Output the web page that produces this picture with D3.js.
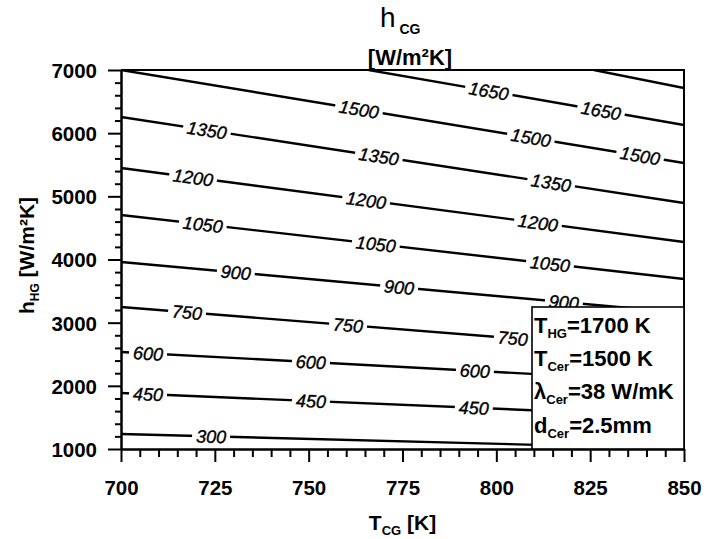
<!DOCTYPE html>
<html>
<head>
<meta charset="utf-8">
<script src="https://cdn.jsdelivr.net/npm/d3@7"></script>
<style>
  body { margin: 0; background: #fff; }
  svg { font-family: "Liberation Sans", Arial, Helvetica, sans-serif; }
  .axis path, .axis line { stroke: #000; stroke-width: 2; }
  .axis text { font-size: 20.5px; font-weight: bold; fill: #000; font-family: "Liberation Sans", Arial, sans-serif; }
</style>
</head>
<body>
<div id="main"></div>
<script>
//chart size and plot box
const width = 716, height = 539;
const plotLeft = 121, plotRight = 684, plotTop = 70, plotBottom = 449;

//axis ticks
const xTicks = [700, 725, 750, 775, 800, 825, 850];
const yTicks = [1000, 2000, 3000, 4000, 5000, 6000, 7000];

//contour levels: start / end points [T_CG, h_HG]
const levels = [300, 450, 600, 750, 900, 1050, 1200, 1350, 1500, 1650, 1800];
const lineStart = [[700,1237],[700,1886],[700,2536],[700,3248],[700,3961],[700,4704],[700,5449],[700,6256],[700,7000],[766,7000],[826,7000]];
const lineEnd   = [[850,1005],[850,1513],[850,2061],[850,2536],[850,3153],[850,3691],[850,4277],[850,4894],[850,5528],[850,6129],[850,6715]];
//where the inline labels sit (T_CG)
const labelT = [
  [724],
  [707.2, 750.6, 794.0],
  [707.2, 750.6, 794.3],
  [717.6, 760.5, 804.4],
  [730.6, 774.1, 818.0],
  [721.8, 767.9, 814.3],
  [719.2, 765.3, 811.1],
  [722.9, 768.7, 814.6],
  [763.4, 809.2, 838.3],
  [798.0, 827.9],
  []
];

//parameter box text
const legendMain = ["T", "T", "\u03bb", "d"];
const legendSub = ["HG", "Cer", "Cer", "Cer"];
const legendRest = ["=1700 K", "=1500 K", "=38 W/mK", "=2.5mm"];

const svg = d3.select('#main').append('svg')
  .attr('width', width).attr('height', height);

const xScale = d3.scaleLinear().domain([700, 850]).range([plotLeft, plotRight]);
const yScale = d3.scaleLinear().domain([1000, 7000]).range([plotBottom, plotTop]);

svg.append('defs').append('clipPath').attr('id', 'plot')
  .append('rect').attr('x', plotLeft).attr('y', plotTop)
  .attr('width', plotRight - plotLeft).attr('height', plotBottom - plotTop);

//contour lines
const line = d3.line().x(d => xScale(d[0])).y(d => yScale(d[1]));
const cont = svg.append('g').attr('clip-path', 'url(#plot)');
levels.forEach(function(lv, i){
  cont.append('path')
    .attr('d', line([lineStart[i], lineEnd[i]]))
    .attr('fill', 'none').attr('stroke', '#000').attr('stroke-width', 2.4);
});

//inline labels with a white gap under them
levels.forEach(function(lv, i){
  const a = lineStart[i], b = lineEnd[i];
  const ang = Math.atan2(yScale(b[1]) - yScale(a[1]), xScale(b[0]) - xScale(a[0])) * 180 / Math.PI;
  labelT[i].forEach(function(t){
    const h = a[1] + (b[1] - a[1]) * (t - a[0]) / (b[0] - a[0]);
    const g = cont.append('g')
      .attr('transform', 'translate(' + xScale(t) + ',' + yScale(h) + ') rotate(' + ang + ')');
    const w = String(lv).length * 10 + 8;
    g.append('rect').attr('x', -w/2).attr('y', -5).attr('width', w).attr('height', 10).attr('fill', '#fff');
    g.append('text').text(lv)
      .attr('text-anchor', 'middle').attr('dy', '0.36em')
      .attr('font-size', '18px').attr('font-style', 'italic')
      .attr('stroke', '#000').attr('stroke-width', 0.4)
      .attr('fill', '#000');
  });
});

//axes: minor then major ticks
const xMinor = d3.range(700, 851, 5).filter(v => v % 25 !== 0);
const yMinor = d3.range(1000, 7001, 200).filter(v => v % 1000 !== 0);

svg.append('g').attr('class', 'axis')
  .attr('transform', 'translate(0,' + plotBottom + ')')
  .call(d3.axisBottom(xScale).tickValues(xMinor).tickSize(8).tickSizeOuter(0).tickFormat(''));
svg.append('g').attr('class', 'axis')
  .attr('transform', 'translate(' + plotLeft + ',0)')
  .call(d3.axisLeft(yScale).tickValues(yMinor).tickSize(6).tickSizeOuter(0).tickFormat(''));

const xAxisG = svg.append('g').attr('class', 'axis')
  .attr('transform', 'translate(0,' + plotBottom + ')')
  .call(d3.axisBottom(xScale).tickValues(xTicks).tickSize(13).tickSizeOuter(0).tickFormat(d3.format('d')));
xAxisG.selectAll('text').attr('y', 46).attr('dy', 0);

const yAxisG = svg.append('g').attr('class', 'axis')
  .attr('transform', 'translate(' + plotLeft + ',0)')
  .call(d3.axisLeft(yScale).tickValues(yTicks).tickSize(13).tickSizeOuter(0).tickFormat(d3.format('d')));
yAxisG.selectAll('text').attr('x', -24).attr('dy', '0.36em');

//frame top and right
svg.append('path')
  .attr('d', 'M' + plotLeft + ',' + plotTop + 'H' + plotRight + 'V' + plotBottom)
  .attr('fill', 'none').attr('stroke', '#000').attr('stroke-width', 2);

//parameter box
svg.append('rect')
  .attr('x', 532).attr('y', 307).attr('width', plotRight - 532).attr('height', plotBottom - 307)
  .attr('fill', '#fff').attr('stroke', '#000').attr('stroke-width', 1.6);
legendMain.forEach(function(m, i){
  const t = svg.append('text')
    .attr('x', 534).attr('y', 333 + i * 33.2)
    .attr('font-size', '22px').attr('font-weight', 'bold');
  t.append('tspan').text(m);
  t.append('tspan').text(legendSub[i]).attr('font-size', '13px').attr('dy', 5);
  t.append('tspan').text(legendRest[i]).attr('dy', -5);
});

//title
const title = svg.append('text').attr('x', 380).attr('y', 27);
title.append('tspan').text('h').attr('font-size', '28px');
title.append('tspan').text(' CG').attr('font-size', '14px').attr('font-weight', 'bold').attr('dy', 7);
svg.append('text').attr('x', 410).attr('y', 65)
  .attr('text-anchor', 'middle').attr('font-size', '22px').attr('font-weight', 'bold')
  .text('[W/m\u00b2K]');

//axis titles
const xt = svg.append('text').attr('x', (plotLeft + plotRight) / 2).attr('y', 530)
  .attr('text-anchor', 'middle').attr('font-size', '21px').attr('font-weight', 'bold');
xt.append('tspan').text('T');
xt.append('tspan').text('CG').attr('font-size', '13px').attr('dy', 5);
xt.append('tspan').text(' [K]').attr('dy', -5);

const yt = svg.append('text')
  .attr('transform', 'translate(34,' + ((plotTop + plotBottom) / 2 - 4) + ') rotate(-90)')
  .attr('text-anchor', 'middle').attr('font-size', '21px').attr('font-weight', 'bold');
yt.append('tspan').text('h');
yt.append('tspan').text('HG').attr('font-size', '12px').attr('dy', 5);
yt.append('tspan').text(' [W/m\u00b2K]').attr('dy', -5);
</script>
</body>
</html>
